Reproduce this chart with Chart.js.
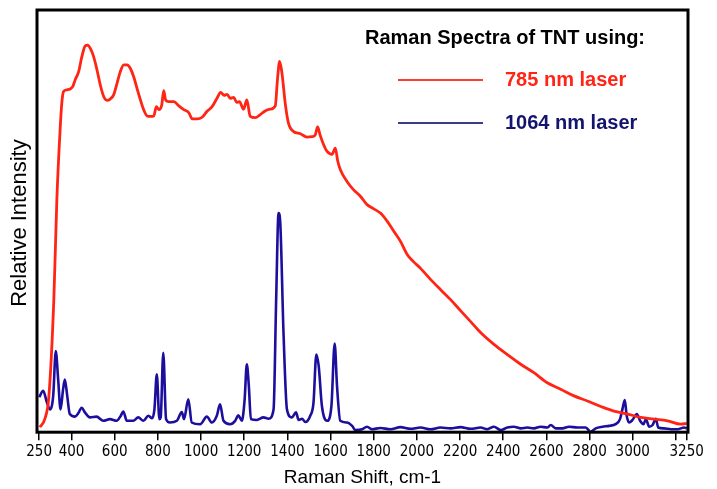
<!DOCTYPE html>
<html>
<head>
<meta charset="utf-8">
<script src="https://cdn.jsdelivr.net/npm/chart.js@4.4.1/dist/chart.umd.min.js"></script>
<style>
	html, body { margin: 0; padding: 0; background: #fff; }
	#wrap { width: 717px; height: 489px; }
</style>
</head>
<body>
<div id="wrap"><canvas id="myChart"></canvas></div>
<script>
// Raman shift (cm-1) and relative intensity for the 785 nm laser
var redShift = [253, 276, 295, 318, 332, 347, 355, 363, 379, 394, 406, 417, 433, 448, 463, 475, 487, 502, 518, 533,
	549, 564, 579, 595, 611, 626, 642, 657, 672, 688, 703, 719, 734, 750, 765, 781, 793, 805, 818, 827,
	836, 850, 874, 897, 920, 943, 959, 982, 1005, 1028, 1051, 1074, 1091, 1107, 1121, 1135, 1151, 1166, 1178, 1197,
	1212, 1228, 1251, 1274, 1297, 1320, 1344, 1354, 1364, 1375, 1390, 1405, 1429, 1460, 1491, 1514, 1529, 1540, 1552, 1568,
	1584, 1607, 1622, 1633, 1645, 1676, 1707, 1738, 1769, 1800, 1831, 1862, 1893, 1924, 1955, 1984, 2017, 2063, 2109, 2156,
	2202, 2249, 2295, 2357, 2419, 2481, 2542, 2604, 2666, 2728, 2790, 2852, 2913, 2976, 3037, 3099, 3161, 3223, 3250];
var redValues = [1.2, 3.1, 8.5, 31.4, 55.1, 71.6, 78.0, 80.7, 81.1, 81.3, 81.9, 83.5, 85.4, 89.0, 91.5, 91.7, 90.9, 89.0, 85.8, 82.3,
	79.5, 78.6, 78.9, 79.9, 82.7, 85.4, 87.0, 87.0, 86.2, 84.2, 81.5, 78.7, 76.4, 74.9, 74.8, 74.9, 77.1, 76.4, 77.5, 80.9,
	78.7, 78.3, 78.3, 77.3, 76.4, 75.7, 74.2, 74.2, 74.6, 76.0, 77.1, 79.1, 80.5, 79.8, 80.0, 79.1, 79.3, 78.1, 78.3, 76.5,
	78.7, 74.8, 74.5, 75.2, 76.1, 76.5, 77.3, 83.5, 87.8, 85.0, 77.9, 73.2, 71.2, 70.7, 69.9, 70.0, 70.4, 72.3, 70.3, 68.1,
	66.5, 65.8, 67.3, 64.3, 62.2, 59.4, 57.4, 55.9, 53.9, 52.9, 51.9, 50.0, 47.6, 45.2, 42.1, 40.4, 38.8, 36.2, 33.8, 31.4,
	28.8, 26.2, 23.6, 20.8, 18.4, 16.1, 14.1, 11.7, 10.2, 8.6, 7.4, 6.1, 5.0, 4.3, 3.5, 3.1, 2.7, 1.9, 2.1];

// Raman shift (cm-1) and relative intensity for the 1064 nm laser
var blueShift = [250, 269, 284, 300, 315, 327, 338, 349, 361, 369, 380, 392, 416, 431, 447, 462, 485, 516, 547, 578,
	609, 627, 640, 656, 686, 709, 733, 756, 773, 784, 795, 807, 813, 825, 838, 856, 888, 911, 921, 941,
	957, 996, 1027, 1050, 1073, 1088, 1104, 1135, 1158, 1173, 1189, 1202, 1212, 1221, 1231, 1259, 1289, 1313, 1336, 1348,
	1359, 1367, 1382, 1398, 1421, 1440, 1452, 1468, 1483, 1506, 1521, 1534, 1545, 1560, 1584, 1604, 1619, 1630, 1645, 1676,
	1700, 1715, 1746, 1769, 1792, 1831, 1877, 1924, 1970, 2017, 2063, 2109, 2156, 2202, 2249, 2295, 2326, 2357, 2388, 2419,
	2449, 2481, 2512, 2542, 2573, 2604, 2620, 2643, 2674, 2705, 2744, 2782, 2805, 2828, 2860, 2890, 2921, 2941, 2952, 2963,
	2972, 2983, 2999, 3019, 3034, 3050, 3061, 3076, 3092, 3107, 3118, 3145, 3177, 3208, 3238, 3250];
var blueValues = [8.3, 9.8, 7.4, 5.4, 8.6, 19.2, 12.5, 5.4, 10.2, 12.5, 8.6, 4.3, 3.7, 4.5, 5.8, 4.7, 3.5, 3.7, 2.7, 3.1,
	2.7, 3.8, 4.9, 2.7, 2.7, 3.5, 2.7, 3.9, 3.3, 5.4, 13.7, 3.1, 3.5, 18.8, 3.1, 2.3, 2.7, 4.8, 3.1, 7.8,
	2.3, 1.9, 3.7, 2.3, 3.9, 6.6, 2.7, 1.9, 2.7, 4.0, 2.7, 7.8, 16.1, 11.3, 3.1, 2.9, 3.5, 3.2, 5.4, 31.4,
	51.9, 49.6, 23.6, 5.4, 3.5, 4.7, 2.9, 3.2, 2.4, 3.9, 7.0, 18.4, 15.7, 6.2, 2.7, 6.2, 21.0, 10.9, 2.7, 2.3,
	1.5, 0.5, 0.7, 1.3, 0.7, 1.0, 0.7, 1.2, 0.8, 1.1, 0.7, 1.1, 0.9, 1.2, 0.8, 1.1, 0.7, 1.3, 0.5, 1.1,
	1.3, 0.9, 1.1, 0.9, 1.3, 1.1, 1.7, 0.9, 0.9, 1.3, 1.1, 1.1, 0.1, 0.9, 1.3, 1.5, 1.9, 3.1, 5.4, 7.6,
	3.9, 2.3, 2.9, 4.3, 2.7, 1.9, 3.1, 1.3, 1.7, 3.2, 1.1, 0.9, 0.7, 0.7, 1.1, 0.9];

var tickValues = [250, 400, 600, 800, 1000, 1200, 1400, 1600, 1800, 2000, 2200, 2400, 2600, 2800, 3000, 3200, 3250];
var tickLabels = ['250', '400', '600', '800', '1000', '1200', '1400', '1600', '1800', '2000', '2200', '2400', '2600', '2800', '3000', '', '3250'];

var seriesNames = ['785 nm laser', '1064 nm laser'];
var chartTitle = 'Raman Spectra of TNT using:';

function toPoints(xs, ys) {
	return xs.map(function (x, i) { return { x: x, y: ys[i] }; });
}

// frame, header and the hand-placed legend
var decorations = {
	id: 'decorations',
	afterDraw: function (chart) {
		var ctx = chart.ctx;
		var a = chart.chartArea;
		ctx.save();
		ctx.strokeStyle = '#000';
		ctx.lineWidth = 3;
		ctx.strokeRect(a.left, a.top, a.right - a.left, a.bottom - a.top);

		ctx.fillStyle = '#000';
		ctx.font = 'bold 20px "Liberation Sans", Arial, sans-serif';
		ctx.textBaseline = 'middle';
		ctx.fillText(chartTitle, 365, 38);

		ctx.lineWidth = 2;
		ctx.strokeStyle = '#ff3b33';
		ctx.beginPath(); ctx.moveTo(398, 80); ctx.lineTo(483, 80); ctx.stroke();
		ctx.fillStyle = '#ff2414';
		ctx.fillText(seriesNames[0], 505, 80);

		ctx.strokeStyle = '#3c3c8c';
		ctx.beginPath(); ctx.moveTo(398, 123); ctx.lineTo(483, 123); ctx.stroke();
		ctx.fillStyle = '#14146e';
		ctx.fillText(seriesNames[1], 505, 123);

		ctx.translate(20, (a.top + a.bottom) / 2 + 2);
		ctx.rotate(-Math.PI / 2);
		ctx.textAlign = 'center';
		ctx.fillStyle = '#000';
		ctx.font = '22px "Liberation Sans", Arial, sans-serif';
		ctx.fillText('Relative Intensity', 0, 0);
		ctx.restore();
	}
};

document.addEventListener("DOMContentLoaded", function () {
	var ctx = document.getElementById('myChart').getContext('2d');
	var myChart = new Chart(ctx, {
		type: 'line',
		data: {
			datasets: [{
				label: seriesNames[0],
				data: toPoints(redShift, redValues),
				borderColor: '#ff2414',
				borderWidth: 2.8,
				pointRadius: 0,
				cubicInterpolationMode: 'monotone',
				fill: false
			}, {
				label: seriesNames[1],
				data: toPoints(blueShift, blueValues),
				borderColor: '#1c0f9e',
				borderWidth: 2.6,
				pointRadius: 0,
				cubicInterpolationMode: 'monotone',
				fill: false
			}]
		},
		options: {
			responsive: true,
			maintainAspectRatio: false,
			animation: false,
			layout: { padding: { left: 37, right: 29, top: 10, bottom: 0 } },
			plugins: {
				legend: { display: false },
				tooltip: { enabled: false }
			},
			scales: {
				x: {
					type: 'linear',
					min: 240,
					max: 3256,
					afterBuildTicks: function (axis) {
						axis.ticks = tickValues.map(function (v) { return { value: v }; });
					},
					ticks: {
						autoSkip: false,
						maxRotation: 0,
						padding: 3,
						color: '#000',
						font: { family: '"DejaVu Sans Condensed", "DejaVu Sans", sans-serif', size: 15 },
						callback: function (value) {
							return tickLabels[tickValues.indexOf(value)];
						}
					},
					grid: {
						drawOnChartArea: false,
						drawTicks: true,
						tickLength: 8,
						color: '#000',
						lineWidth: 1.5
					},
					border: { display: false },
					title: {
						display: true,
						text: 'Raman Shift, cm-1',
						color: '#000',
						font: { family: '"Liberation Sans", Arial, sans-serif', size: 19 },
						padding: { top: 2, bottom: 0 }
					}
				},
				y: {
					display: false,
					min: 0,
					max: 100
				}
			}
		},
		plugins: [decorations]
	});
});
</script>
</body>
</html>
